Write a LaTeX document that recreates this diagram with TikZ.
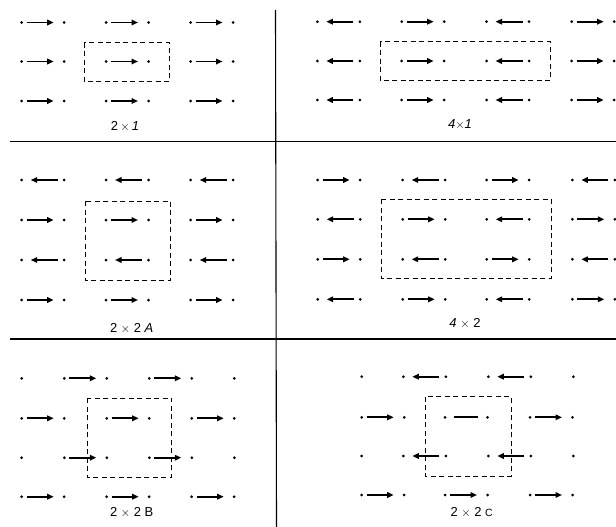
\documentclass[tikz,border=0pt]{standalone}
\usepackage{fontspec}
\setmainfont{Liberation Sans}
\usetikzlibrary{arrows.meta}
\tikzset{
  spinarrow/.style={line width=1.8pt, -{Triangle[length=6.5pt,width=5.5pt]}},
  spinline/.style={line width=1.8pt},
  cellbox/.style={dash pattern=on 5pt off 3.5pt, line width=0.9pt},
  divider/.style={line width=1.1pt},
  lab/.style={font=\fontsize{13}{15}\selectfont, inner sep=0pt},
}
\newcommand{\sdot}[2]{\fill (#1,#2) circle (1.5pt);}
\newcommand{\pR}[2]{\sdot{#1}{#2}\sdot{#1+42.5}{#2}\draw[spinarrow] (#1+5,#2) -- (#1+32,#2);}
\newcommand{\pL}[2]{\sdot{#1}{#2}\sdot{#1+42.5}{#2}\draw[spinarrow] (#1+36,#2) -- (#1+9,#2);}
\newcommand{\pN}[2]{\sdot{#1}{#2}\sdot{#1+42.5}{#2}\draw[spinline] (#1+8.5,#2) -- (#1+32.5,#2);}
\newcommand{\pD}[2]{\sdot{#1}{#2}}
\begin{document}
\begin{tikzpicture}[x=1pt,y=-1pt]
\useasboundingbox (0,0) rectangle (616,527);
% dividers
\draw[divider] (275.5,10) -- (276.5,527);
\draw[divider] (10,141.5) -- (616,141.5);
\draw[divider] (10,339) -- (616,339);
% panel 2x1
\foreach \y in {22.5,61.5,101}{
  \foreach \x in {21.7,106,190.5}{\pR{\x}{\y}}}
\draw[cellbox] (84,42.7) rectangle (169,81.7);
\node[lab] (l21) at (125,126) {2\,$\times$\,\textit{1}};
% panel 4x1
\foreach \y in {21.7,61,100}{
  \foreach \x/\d in {317.3/L,401.7/R,486.5/L,571.7/R}{\csname p\d\endcsname{\x}{\y}}}
\draw[cellbox] (380,41.7) rectangle (550,80.7);
\node[lab] (l41) at (460,125) {\textit{4}$\times$\textit{1}};
% panel 2x2 A
\foreach \y/\d in {180/L,220/R,260/L,300/R}{
  \foreach \x in {21.7,106,190.7}{\csname p\d\endcsname{\x}{\y}}}
\draw[cellbox] (85,201) rectangle (170.7,280);
\node[lab] (l22a) at (131.7,328) {2 $\times$ 2 \textit{A}};
% panel 4x2
\foreach \y/\da/\db in {180/R/L,219.3/L/R,259.3/R/L,299.3/L/R}{
  \foreach \x/\d in {317.7/\da,402.7/\db,486.7/\da,572.3/\db}{\csname p\d\endcsname{\x}{\y}}}
\draw[cellbox] (381,199.3) rectangle (551,278.3);
\node[lab] (l42) at (465,323) {\textit{4} $\times$ 2};
% panel 2x2 B
\foreach \y in {378.3,457.7}{
  \pD{21.7}{\y}\pR{64.3}{\y}\pR{149.3}{\y}\pD{234.3}{\y}}
\foreach \y in {418.3,496.7}{
  \foreach \x in {21.7,106.7,191.7}{\pR{\x}{\y}}}
\draw[cellbox] (87.3,398) rectangle (171.7,477);
\node[lab] (l22b) at (131.7,512) {2 $\times$ 2 B};
% panel 2x2 C
\foreach \y in {376.7,456}{
  \pD{361.7}{\y}\pL{403.3}{\y}\pL{488.3}{\y}\pD{573.3}{\y}}
\pR{361.7}{417.3}\pN{445}{417.3}\pR{530}{417.3}
\foreach \x in {361.7,445,530}{\pR{\x}{495}}
\draw[cellbox] (425,396.7) rectangle (511,476);
\node[lab] (l22c) at (471.7,512) {2 $\times$ 2 {\fontsize{10.5}{12}\selectfont C}};
\end{tikzpicture}
\end{document}
